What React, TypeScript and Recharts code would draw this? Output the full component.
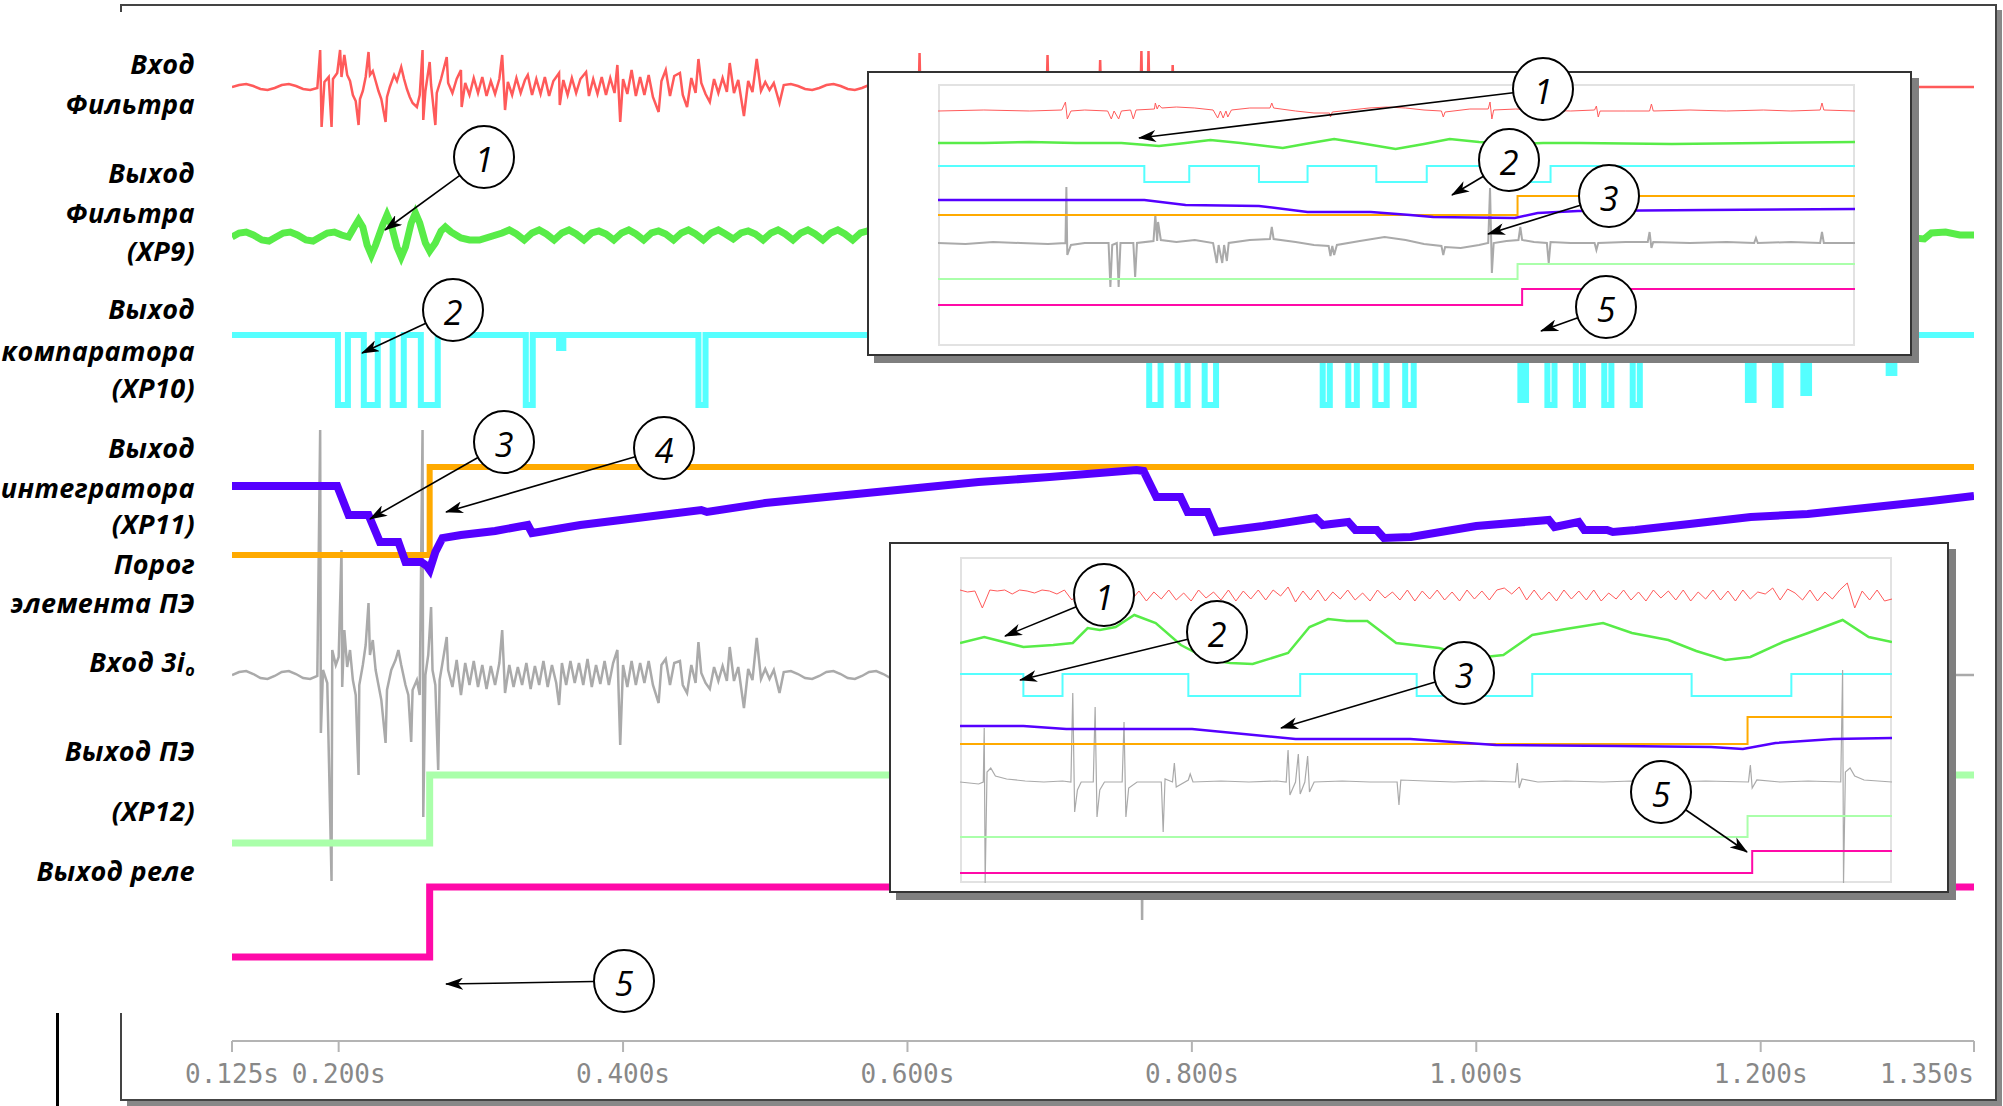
import React from 'react';
import { LineChart, Line, XAxis, YAxis } from 'recharts';

type Pt = [number, number];

// main record: time in seconds, amplitude in px above each channel's baseline
const timeTicks = [0.125, 0.2, 0.4, 0.6, 0.8, 1.0, 1.2, 1.35];

const filterIn: Pt[] = [
  [0.125, 0], [0.13, 2], [0.135, 3], [0.14, 1], [0.145, -2], [0.15, -3], [0.155, -1], [0.16, 2], [0.165, 3], [0.17, 1], [0.175, -2], [0.18, -3], [0.185, -1],
  [0.187, 37], [0.188, -40], [0.19, 5], [0.193, 10], [0.195, -40], [0.196, 8], [0.199, 14], [0.201, 37], [0.202, 10], [0.204, 32], [0.206, 12],
  [0.208, 6], [0.21, -8], [0.212, -14], [0.214, -38], [0.215, -12], [0.217, -4], [0.219, 10], [0.221, 35], [0.222, 12], [0.224, 16], [0.226, 6],
  [0.228, -4], [0.23, -12], [0.233, -35], [0.234, -10], [0.236, 0], [0.239, 12], [0.241, 6], [0.244, 20], [0.246, 8], [0.248, -2], [0.25, -10],
  [0.252, -16], [0.255, -20], [0.257, -8], [0.259, 37], [0.2595, -33], [0.261, -4], [0.264, 25], [0.265, 2], [0.268, -38], [0.269, -6], [0.272, 8],
  [0.276, 30], [0.277, 4], [0.28, -6], [0.283, 8], [0.286, 17], [0.2865, -20], [0.289, 4], [0.292, -8], [0.295, 9], [0.298, -6], [0.301, 10],
  [0.304, -9], [0.307, 6], [0.31, -7], [0.313, 8], [0.315, 32], [0.317, -23], [0.319, 5], [0.322, -8], [0.325, 9], [0.328, -6], [0.331, 7],
  [0.333, 12], [0.336, -8], [0.339, 8], [0.342, -7], [0.345, 10], [0.348, -9], [0.351, 6], [0.355, 14], [0.3555, -18], [0.358, 7], [0.361, -8],
  [0.364, 9], [0.367, -6], [0.37, 8], [0.374, 15], [0.376, -9], [0.379, 8], [0.382, -7], [0.385, 10], [0.388, -8], [0.391, 9], [0.394, -6],
  [0.396, 22], [0.398, -35], [0.4, 8], [0.403, -7], [0.406, 17], [0.409, -9], [0.412, 10], [0.415, -8], [0.418, 12], [0.421, -10], [0.425, -25],
  [0.427, 6], [0.43, 17], [0.433, -9], [0.436, 11], [0.44, 14], [0.442, -8], [0.445, -20], [0.448, 9], [0.451, -6], [0.453, 28], [0.455, 4],
  [0.458, -7], [0.461, -15], [0.464, 8], [0.467, -6], [0.47, 9], [0.473, -5], [0.475, 24], [0.478, -6], [0.481, 7], [0.485, -29], [0.488, 6],
  [0.491, -5], [0.494, 28], [0.497, -4], [0.5, 5], [0.503, -3], [0.506, 4], [0.51, -16], [0.513, 2],
  [0.518, 3], [0.523, 1], [0.528, -2], [0.533, -3], [0.538, -1], [0.543, 2], [0.548, 3], [0.553, 1], [0.558, -2], [0.563, -3], [0.568, -1],
  [0.573, 2], [0.578, 3], [0.583, 1], [0.588, -2], [0.593, -3], [0.6, 0],
  [0.608, 0], [0.6085, 34], [0.609, 0], [0.65, 1], [0.698, 0], [0.6985, 32], [0.699, 0], [0.735, 0], [0.7355, 27], [0.736, 0],
  [0.764, 0], [0.7645, 36], [0.765, 0], [0.769, 0], [0.7695, 36], [0.77, 0], [0.786, 0], [0.7865, 22], [0.787, 0], [0.9, 0], [1.1, 0], [1.35, 0],
];

const filterOut: Pt[] = [
  [0.125, 0], [0.13, 4], [0.135, 5], [0.14, 2], [0.146, -3], [0.151, -4], [0.156, 0], [0.161, 4], [0.166, 5], [0.171, 2], [0.177, -3],
  [0.182, -4], [0.187, 0], [0.192, 4], [0.197, 5], [0.202, 2], [0.207, 0],
  [0.211, 10], [0.214, 17], [0.217, 10], [0.22, -8], [0.223, -18], [0.226, -8], [0.231, 12], [0.234, 22], [0.237, 12], [0.241, -10],
  [0.244, -20], [0.247, -10], [0.251, 14], [0.254, 24], [0.257, 14], [0.261, -6], [0.264, -14], [0.268, -6], [0.272, 6], [0.275, 10],
  [0.279, 5], [0.286, -1], [0.292, -3], [0.299, -3],
  [0.315, 4], [0.32, 7], [0.325, 3], [0.3305, -3], [0.336, 4], [0.341, 7], [0.346, 3], [0.3515, -3], [0.357, 4], [0.362, 7], [0.367, 3],
  [0.3725, -3], [0.378, 4], [0.383, 6], [0.388, 3], [0.3935, -3], [0.399, 4], [0.404, 7], [0.409, 3], [0.4145, -3], [0.42, 4], [0.425, 6],
  [0.43, 3], [0.4355, -3], [0.441, 4], [0.446, 7], [0.451, 3], [0.4565, -3], [0.462, 4], [0.467, 7], [0.472, 3], [0.4775, -2], [0.483, 4],
  [0.488, 6], [0.493, 3], [0.4985, -3], [0.504, 4], [0.509, 7], [0.514, 3], [0.5195, -3], [0.525, 4], [0.53, 7], [0.535, 3], [0.5405, -3],
  [0.546, 4], [0.551, 7], [0.556, 3], [0.5615, -3], [0.567, 4], [0.572, 6], [0.577, 3], [0.5825, -2],
  [0.7, 0], [0.9, 0], [1.1, 0], [1.3, 0], [1.315, -2], [1.32, 4], [1.33, 5], [1.34, 2], [1.35, 2],
];

const comparator: Pt[] = [
  [0.125, 0], [0.1995, -70], [0.2065, 0], [0.2177, -70], [0.2275, 0], [0.238, -70], [0.2458, 0], [0.2578, -70], [0.2697, 0],
  [0.3316, -70], [0.3365, 0], [0.355, -13], [0.358, 0], [0.453, -70], [0.458, 0], [0.77, -70], [0.778, 0], [0.79, -70], [0.797, 0],
  [0.809, -70], [0.817, 0], [0.892, -70], [0.897, 0], [0.91, -70], [0.916, 0], [0.929, -70], [0.937, 0], [0.95, -70], [0.956, 0],
  [1.031, -65], [1.035, 0], [1.05, -70], [1.055, 0], [1.07, -70], [1.075, 0], [1.09, -70], [1.095, 0], [1.11, -70], [1.115, 0],
  [1.191, -65], [1.195, 0], [1.21, -70], [1.214, 0], [1.23, -58], [1.234, 0], [1.29, -38], [1.294, 0], [1.35, 0],
];

const integrator: Pt[] = [
  [0.125, 0], [0.199, 0], [0.207, -29], [0.221, -29], [0.229, -56], [0.242, -56], [0.247, -76], [0.258, -76], [0.262, -80], [0.264, -84],
  [0.268, -66], [0.273, -52], [0.286, -49], [0.31, -45], [0.333, -39], [0.336, -47], [0.345, -45], [0.37, -39], [0.41, -32], [0.455, -24],
  [0.459, -26], [0.5, -17], [0.55, -10], [0.6, -3], [0.65, 4], [0.7, 9], [0.761, 16], [0.766, 15], [0.775, -11], [0.792, -11], [0.797, -26],
  [0.811, -26], [0.817, -46], [0.85, -40], [0.887, -32], [0.892, -39], [0.91, -36], [0.915, -44], [0.93, -44], [0.935, -52], [0.954, -51],
  [1.0, -40], [1.051, -34], [1.055, -41], [1.072, -36], [1.076, -44], [1.092, -44], [1.096, -46], [1.112, -44], [1.15, -38], [1.193, -31],
  [1.233, -28], [1.28, -21], [1.32, -15], [1.35, -10],
];

const threshold: Pt[] = [[0.125, 0], [0.264, 88], [1.35, 88]];

const input3i0: Pt[] = [
  [0.125, 0], [0.13, 3], [0.135, 4], [0.14, 1], [0.145, -3], [0.15, -4], [0.155, -1], [0.16, 3], [0.165, 4], [0.17, 1], [0.175, -3], [0.18, -4], [0.185, -1],
  [0.187, 245], [0.1875, -58], [0.189, 5], [0.192, -8], [0.195, -206], [0.1955, 25], [0.198, 10], [0.2, 18], [0.202, 125], [0.2025, -12],
  [0.204, 45], [0.206, 8], [0.208, 25], [0.21, -5], [0.212, -20], [0.214, -100], [0.2145, -10], [0.217, 10], [0.219, 30], [0.221, 72],
  [0.222, 20], [0.224, 35], [0.226, 5], [0.228, -10], [0.23, -25], [0.233, -68], [0.234, -15], [0.237, 5], [0.24, 15], [0.242, 25],
  [0.244, 10], [0.247, -10], [0.249, -20], [0.251, -67], [0.252, -15], [0.255, -5], [0.257, -20], [0.259, 245], [0.2595, -142], [0.261, 0],
  [0.263, 20], [0.265, 68], [0.266, 5], [0.268, -10], [0.27, -95], [0.271, -5], [0.273, 12], [0.276, 38], [0.277, 5], [0.28, -12],
  [0.283, 15], [0.286, -20], [0.289, 12], [0.292, -10], [0.295, 14], [0.298, -12], [0.301, 10], [0.304, -14], [0.307, 9], [0.31, -10],
  [0.313, 12], [0.315, 45], [0.317, -18], [0.32, 10], [0.323, -12], [0.326, 8], [0.329, -10], [0.332, 12], [0.335, -14], [0.338, 9],
  [0.341, -10], [0.344, 14], [0.347, -12], [0.35, 10], [0.353, -8], [0.355, -30], [0.357, 12], [0.36, -10], [0.363, 14], [0.366, -8],
  [0.369, 12], [0.372, -10], [0.375, 16], [0.378, -12], [0.381, 10], [0.384, -9], [0.387, 14], [0.39, -10], [0.393, 12], [0.396, 25],
  [0.398, -70], [0.4, 10], [0.403, -12], [0.406, 14], [0.409, -10], [0.412, 12], [0.415, -8], [0.418, 14], [0.421, -10], [0.425, -28],
  [0.427, 10], [0.43, 16], [0.433, -10], [0.436, 12], [0.44, 14], [0.442, -10], [0.445, -18], [0.448, 10], [0.451, -8], [0.453, 33],
  [0.455, 2], [0.458, -8], [0.461, -14], [0.464, 8], [0.467, -6], [0.47, 9], [0.473, -6], [0.475, 28], [0.478, -6], [0.481, 8],
  [0.485, -33], [0.488, 6], [0.491, -5], [0.494, 37], [0.497, -4], [0.5, 6], [0.503, -4], [0.506, 5], [0.51, -18], [0.513, 3],
  [0.518, 4], [0.523, 1], [0.528, -3], [0.533, -4], [0.538, -1], [0.543, 3], [0.548, 4], [0.553, 1], [0.558, -3], [0.563, -4], [0.568, -1],
  [0.573, 3], [0.578, 4], [0.583, 1], [0.588, -3], [0.593, -2], [0.7, 0], [0.764, 0], [0.765, -245],
  [0.766, 0], [0.9, 0], [1.2, 0], [1.33, 0], [1.35, 0],
];

const peOut: Pt[] = [[0.125, 0], [0.264, 68], [1.35, 68]];
const relayOut: Pt[] = [[0.125, 0], [0.264, 70], [1.35, 70]];

// inset 1: zoomed window, relative time 0..1
const z1FilterIn: Pt[] = [
  [0, 0], [0.05, 1], [0.1, 0], [0.135, 1], [0.139, 9], [0.141, -8], [0.145, 0], [0.16, 1], [0.185, 0], [0.189, -8], [0.192, 0],
  [0.197, -8], [0.2, 0], [0.21, 1], [0.213, -8], [0.216, 1], [0.236, 2], [0.237, 8], [0.239, 2], [0.241, 6], [0.244, 3], [0.26, 4],
  [0.28, 3], [0.3, 1], [0.305, -7], [0.308, 0], [0.311, -7], [0.314, 0], [0.316, -6], [0.32, 1], [0.34, 3], [0.362, 3], [0.364, 8],
  [0.366, 3], [0.39, 0], [0.41, -2], [0.427, -2], [0.428, -6], [0.43, -1], [0.45, 1], [0.47, 3], [0.49, 4], [0.51, 3], [0.53, 1],
  [0.549, 0], [0.551, -6], [0.553, -1], [0.58, 2], [0.6, 2], [0.602, 9], [0.604, -8], [0.606, 1], [0.63, 2], [0.66, 1], [0.69, 0],
  [0.716, 1], [0.718, 5], [0.72, -6], [0.722, 0], [0.75, 0], [0.776, 0], [0.778, 7], [0.78, 0], [0.82, 1], [0.86, 0], [0.9, 1],
  [0.93, 0], [0.962, 1], [0.964, 8], [0.966, 1], [1, 0],
];
const z1FilterOut: Pt[] = [
  [0, 0], [0.05, 0], [0.1, 1], [0.15, 0], [0.2, 0], [0.241, -3], [0.27, 0], [0.297, 3], [0.33, 0], [0.376, -5], [0.4, -1], [0.432, 4],
  [0.46, 0], [0.499, -6], [0.53, -1], [0.558, 4], [0.59, 1], [0.63, -1], [0.66, 0], [0.7, 0], [0.8, -1], [0.9, 0], [1, 1],
];
const z1Comparator: Pt[] = [
  [0, 0], [0.225, -16], [0.274, 0], [0.35, -16], [0.403, 0], [0.478, -16], [0.533, 0], [0.606, -16], [0.668, 0], [1, 0],
];
const z1Integrator: Pt[] = [
  [0, 0], [0.225, 0], [0.27, -5], [0.35, -6], [0.403, -12], [0.472, -12], [0.515, -15], [0.54, -17], [0.629, -18], [0.654, -13],
  [0.698, -11], [0.838, -10], [1, -9],
];
const z1Threshold: Pt[] = [[0, 0], [0.632, 19], [1, 19]];
const z1Input3i0: Pt[] = [
  [0, 0], [0.03, -1], [0.06, 1], [0.09, 0], [0.12, -1], [0.139, 0], [0.14, 56], [0.141, -12], [0.145, -2], [0.16, 0], [0.186, 0],
  [0.188, -44], [0.19, -2], [0.195, 0], [0.197, -44], [0.199, 0], [0.213, 0], [0.215, -34], [0.217, 0], [0.235, 2], [0.237, 28],
  [0.239, 2], [0.24, 21], [0.243, 3], [0.26, 1], [0.28, 3], [0.3, 0], [0.304, -20], [0.306, -2], [0.31, -20], [0.312, -2], [0.315, -18],
  [0.317, 0], [0.34, 3], [0.362, 4], [0.364, 16], [0.366, 4], [0.39, 1], [0.41, -2], [0.426, -3], [0.428, -13], [0.43, -3], [0.432, -12],
  [0.435, -2], [0.46, 2], [0.487, 6], [0.51, 3], [0.53, -1], [0.549, -3], [0.551, -12], [0.553, -4], [0.57, -5], [0.59, -2], [0.6, 0],
  [0.602, 55], [0.604, -30], [0.606, 0], [0.62, 2], [0.633, 3], [0.635, 16], [0.637, 3], [0.65, 1], [0.664, 0], [0.666, -20], [0.668, 1],
  [0.69, 0], [0.716, 0], [0.718, -7], [0.72, 0], [0.75, 1], [0.774, 1], [0.776, 11], [0.778, -5], [0.78, 1], [0.82, 0], [0.86, 1],
  [0.89, 0], [0.892, 5], [0.894, 0], [0.93, 1], [0.962, 0], [0.964, 11], [0.966, 0], [1, 0],
];
const z1PeOut: Pt[] = [[0, 0], [0.632, 15], [1, 15]];
const z1RelayOut: Pt[] = [[0, 0], [0.637, 16], [1, 16]];

// inset 2: second zoomed window, relative time 0..1
const z2FilterInSamples = [
  0, -2, -1, -18, 0,
  -1, 0, -4, 0, -1, -3, 0, -1, -4, 0,
  -10, -2, -9, 0, -11, -3, -8, 0, -10, -1, -11, -2, -9, 0, -10, -3, -11, 0, -8, -2, -10, 0, -11, -1, -9, 0, -10,
  0, -6, 3, -12,
  -1, -10, 0, -11, -2, -9, 0, -10, -3, -11, 0, -8, -2, -10, 0, -11, -1, -9, 0, -10, -2, -11, 0, -9, -1, -10, 0,
  2, -4, 3, -10, 0,
  -10, -2, -11, 0, -9, -1, -10, 0, -11, -3, -9, 0, -10, -2, -11, 0, -8, -1, -10, 0, -11, -2, -9, 0, -10, -1, -11, 0, -9, -2, -4, 2, -10, 1, -3,
  -10, 0, -11, -2, -9, 0, 7, -18, -1, -10, 0, -11, -9,
];
const z2FilterOut: Pt[] = [
  [0, 0], [0.026, 6], [0.068, -4], [0.1, -2], [0.121, 0], [0.137, 15], [0.15, 13], [0.167, 16], [0.187, 28], [0.21, 20], [0.237, -2],
  [0.268, -17], [0.29, -20], [0.314, -21], [0.352, -10], [0.375, 16], [0.395, 24], [0.415, 22], [0.437, 22], [0.468, 0], [0.514, -5],
  [0.553, -15], [0.583, -12], [0.614, 8], [0.65, 14], [0.69, 20], [0.721, 10], [0.76, 3], [0.79, -8], [0.821, -17], [0.848, -14],
  [0.883, 1], [0.91, 10], [0.947, 23], [0.975, 6], [1, 1],
];
const z2Comparator: Pt[] = [
  [0, 0], [0.068, -22], [0.11, 0], [0.245, -22], [0.365, 0], [0.49, -22], [0.614, 0], [0.785, -22], [0.892, 0], [1, 0],
];
const z2Integrator: Pt[] = [
  [0, 0], [0.068, 0], [0.114, -3], [0.249, -3], [0.36, -13], [0.483, -13], [0.575, -19], [0.706, -20], [0.806, -21], [0.84, -23],
  [0.875, -17], [0.937, -13], [1, -12],
];
const z2Threshold: Pt[] = [[0, 0], [0.845, 27], [1, 27]];
const z2Input3i0: Pt[] = [
  [0, 0], [0.02, -2], [0.025, 0], [0.026, 54], [0.027, -101], [0.029, 10], [0.033, 14], [0.038, 6], [0.05, 3], [0.07, 1], [0.09, 0],
  [0.11, 1], [0.119, 0], [0.121, 89], [0.123, -30], [0.126, -8], [0.13, 0], [0.143, 0], [0.145, 75], [0.147, -35], [0.15, -8], [0.155, 0],
  [0.174, 0], [0.176, 60], [0.178, -35], [0.181, -6], [0.19, 0], [0.216, 0], [0.218, -50], [0.22, 3], [0.228, 0], [0.23, 19], [0.232, -5],
  [0.245, 2], [0.247, 8], [0.25, 0], [0.28, 1], [0.31, 0], [0.34, 1], [0.35, 0], [0.352, 32], [0.354, -13], [0.36, 0], [0.363, 28],
  [0.365, -12], [0.37, 0], [0.373, 26], [0.375, -10], [0.38, 0], [0.41, 1], [0.44, 0], [0.469, 0], [0.471, -23], [0.473, 2], [0.5, 1],
  [0.53, 0], [0.56, 1], [0.596, 0], [0.598, 19], [0.6, -6], [0.603, 3], [0.62, 0], [0.65, 1], [0.69, 0], [0.72, 1], [0.76, 0], [0.8, 1],
  [0.846, 0], [0.848, 17], [0.85, -6], [0.855, 2], [0.88, 0], [0.91, 1], [0.945, 0], [0.947, 112], [0.948, -101], [0.95, 10],
  [0.955, 14], [0.96, 6], [0.97, 2], [1, 0],
];
const z2PeOut: Pt[] = [[0, 0], [0.845, 21], [1, 21]];
const z2RelayOut: Pt[] = [[0, 0], [0.85, 22], [1, 22]];

const RED = '#ff5a5a';
const GREEN = '#58ec48';
const CYAN = '#55ffff';
const PURPLE = '#5500ff';
const ORANGE = '#ffaa00';
const GRAY = '#aaaaaa';
const LGREEN = '#aaffaa';
const MAGENTA = '#ff0aa8';

type Series = { pts: Pt[]; base: number; color: string; w: number; step?: boolean };

const toRows = (pts: Pt[], base: number) => pts.map(([t, a]) => ({ t, y: base - a }));

function renderLines(series: Series[]) {
  return series.map((s, i) => (
    <Line
      key={i}
      data={toRows(s.pts, s.base)}
      dataKey="y"
      type={s.step ? 'stepAfter' : 'linear'}
      stroke={s.color}
      strokeWidth={s.w}
      dot={false}
      activeDot={false}
      isAnimationActive={false}
    />
  ));
}

// last label sits flush with the right edge of the plot, as in the scope print
function TimeTick(props: any) {
  const { x, y, payload } = props;
  const last = payload.value === timeTicks[timeTicks.length - 1];
  return (
    <text
      x={x}
      y={y}
      dy="0.71em"
      textAnchor={last ? 'end' : 'middle'}
      fill="#888"
      fontSize={26}
      fontFamily='"DejaVu Sans Mono", monospace'
    >
      {`${payload.value.toFixed(3)}s`}
    </text>
  );
}

function MainChart() {
  const series: Series[] = [
    { pts: filterIn, base: 55, color: RED, w: 2.5 },
    { pts: filterOut, base: 205, color: GREEN, w: 7 },
    { pts: comparator, base: 303, color: CYAN, w: 6, step: true },
    { pts: input3i0, base: 643, color: GRAY, w: 2.5 },
    { pts: threshold, base: 523, color: ORANGE, w: 6, step: true },
    { pts: integrator, base: 454, color: PURPLE, w: 8 },
    { pts: peOut, base: 811, color: LGREEN, w: 7, step: true },
    { pts: relayOut, base: 925, color: MAGENTA, w: 7, step: true },
  ];
  return (
    <div style={{ position: 'absolute', left: 0, top: 0 }}>
      <LineChart width={2003} height={1106} margin={{ top: 32, right: 29, bottom: 5, left: 232 }}>
        <XAxis
          dataKey="t"
          type="number"
          domain={[0.125, 1.35]}
          ticks={timeTicks}
          interval={0}
          allowDataOverflow
          height={60}
          stroke="#b4b4b4"
          strokeWidth={2}
          tickSize={11}
          tickMargin={13}
          tick={<TimeTick />}
        />
        <XAxis xAxisId="top" orientation="top" dataKey="t" type="number" domain={[0.125, 1.35]} height={0} tick={false} tickLine={false} stroke="#cccccc" strokeWidth={2} />
        <YAxis type="number" domain={[0, 1009]} reversed width={0} tick={false} tickLine={false} stroke="#bbbbbb" strokeWidth={2} allowDataOverflow />
        <YAxis yAxisId="right" orientation="right" type="number" domain={[0, 1]} width={0} tick={false} tickLine={false} stroke="#bbbbbb" strokeWidth={2} />
        {renderLines(series)}
      </LineChart>
    </div>
  );
}

function Inset({ box, inner, series }: { box: number[]; inner: number[]; series: Series[] }) {
  return (
    <>
      <div
        style={{
          position: 'absolute', left: box[0], top: box[1], width: box[2], height: box[3], background: '#fff',
          border: '2px solid #333', boxShadow: '7px 7px 0 #7f7f7f', boxSizing: 'border-box',
        }}
      />
      <div style={{ position: 'absolute', left: inner[0], top: inner[1], width: inner[2], height: inner[3], border: '2px solid #e2e2e2', boxSizing: 'border-box' }} />
      <div style={{ position: 'absolute', left: inner[0], top: inner[1] }}>
        <LineChart width={inner[2]} height={inner[3]} margin={{ top: 0, right: 0, bottom: 0, left: 0 }}>
          <XAxis dataKey="t" type="number" domain={[0, 1]} hide />
          <YAxis type="number" domain={[0, inner[3]]} reversed hide />
          {renderLines(series)}
        </LineChart>
      </div>
    </>
  );
}

const labelStyle: React.CSSProperties = {
  position: 'absolute', right: 1808, transform: 'translateY(-50%)', whiteSpace: 'nowrap', lineHeight: 1,
  fontFamily: '"Open Sans", sans-serif', fontWeight: 700, fontStyle: 'italic', fontSize: 27, letterSpacing: 0.4, color: '#000',
};

function Labels() {
  const rows: [React.ReactNode, number][] = [
    ['Вход', 63], ['Фильтра', 103], ['Выход', 172], ['Фильтра', 212], ['(XP9)', 250], ['Выход', 308], ['компаратора', 350],
    ['(XP10)', 387], ['Выход', 447], ['интегратора', 487], ['(XP11)', 523], ['Порог', 563], ['элемента ПЭ', 602],
    [<>Вход 3i<span style={{ fontSize: '0.6em', verticalAlign: '-0.2em' }}>o</span></>, 663],
    ['Выход ПЭ', 750], ['(XP12)', 810], ['Выход реле', 870],
  ];
  return (
    <>
      {rows.map(([txt, y], i) => (
        <div key={i} style={{ ...labelStyle, top: y }}>{txt}</div>
      ))}
    </>
  );
}

function Callouts() {
  const items: { n: string; c: [number, number]; to: [number, number] }[] = [
    { n: '1', c: [484, 157], to: [385, 230] },
    { n: '2', c: [453, 310], to: [362, 353] },
    { n: '3', c: [504, 442], to: [370, 519] },
    { n: '4', c: [664, 448], to: [446, 512] },
    { n: '5', c: [624, 981], to: [446, 984] },
    { n: '1', c: [1543, 89], to: [1139, 138] },
    { n: '2', c: [1509, 160], to: [1452, 195] },
    { n: '3', c: [1609, 196], to: [1488, 234] },
    { n: '5', c: [1606, 307], to: [1541, 331] },
    { n: '1', c: [1104, 595], to: [1005, 636] },
    { n: '2', c: [1217, 632], to: [1020, 680] },
    { n: '3', c: [1464, 673], to: [1281, 728] },
    { n: '5', c: [1661, 792], to: [1747, 852] },
  ];
  return (
    <svg width={2003} height={1106} style={{ position: 'absolute', left: 0, top: 0, pointerEvents: 'none' }}>
      <defs>
        <marker id="ah" markerWidth="18" markerHeight="12" refX="17" refY="6" orient="auto" markerUnits="userSpaceOnUse">
          <path d="M0,0 L18,6 L0,12 L5,6 Z" fill="#000" />
        </marker>
      </defs>
      {items.map((it, i) => {
        const dx = it.to[0] - it.c[0];
        const dy = it.to[1] - it.c[1];
        const d = Math.hypot(dx, dy);
        const sx = it.c[0] + (dx / d) * 30;
        const sy = it.c[1] + (dy / d) * 31;
        return (
          <g key={i}>
            <line x1={sx} y1={sy} x2={it.to[0]} y2={it.to[1]} stroke="#000" strokeWidth={1.6} markerEnd="url(#ah)" />
            <ellipse cx={it.c[0]} cy={it.c[1]} rx={30} ry={31} fill="#fff" stroke="#000" strokeWidth={2} />
            <text
              x={it.c[0]}
              y={it.c[1] + 2}
              textAnchor="middle"
              dominantBaseline="central"
              fontFamily='"Open Sans", sans-serif'
              fontStyle="italic"
              fontSize={34}
              fill="#000"
            >
              {it.n}
            </text>
          </g>
        );
      })}
    </svg>
  );
}

export default function App() {
  const z2FilterIn: Pt[] = z2FilterInSamples.map((v, i) => [i / (z2FilterInSamples.length - 1), v]);
  const inset1: Series[] = [
    { pts: z1FilterIn, base: 27, color: RED, w: 1 },
    { pts: z1FilterOut, base: 59, color: GREEN, w: 2.5 },
    { pts: z1Comparator, base: 82, color: CYAN, w: 2, step: true },
    { pts: z1Input3i0, base: 159, color: GRAY, w: 2 },
    { pts: z1Threshold, base: 131, color: ORANGE, w: 2, step: true },
    { pts: z1Integrator, base: 116, color: PURPLE, w: 2.5 },
    { pts: z1PeOut, base: 195, color: LGREEN, w: 2, step: true },
    { pts: z1RelayOut, base: 221, color: MAGENTA, w: 2, step: true },
  ];
  const inset2: Series[] = [
    { pts: z2FilterIn, base: 33, color: RED, w: 1 },
    { pts: z2FilterOut, base: 86, color: GREEN, w: 2.5 },
    { pts: z2Comparator, base: 117, color: CYAN, w: 2, step: true },
    { pts: z2Input3i0, base: 225, color: GRAY, w: 1.2 },
    { pts: z2Threshold, base: 187, color: ORANGE, w: 2, step: true },
    { pts: z2Integrator, base: 169, color: PURPLE, w: 2.5 },
    { pts: z2PeOut, base: 280, color: LGREEN, w: 2, step: true },
    { pts: z2RelayOut, base: 316, color: MAGENTA, w: 2, step: true },
  ];
  return (
    <div style={{ position: 'absolute', left: 0, top: 0, width: 2003, height: 1106, background: '#fff', overflow: 'hidden' }}>
      {/* outer frame with shadow */}
      <div style={{ position: 'absolute', left: 127, top: 1101, width: 1875, height: 5, background: '#888' }} />
      <div style={{ position: 'absolute', left: 1997, top: 10, width: 5, height: 1096, background: '#888' }} />
      <div style={{ position: 'absolute', left: 120, top: 4, width: 1877, height: 2, background: '#444' }} />
      <div style={{ position: 'absolute', left: 1995, top: 4, width: 2, height: 1097, background: '#444' }} />
      <div style={{ position: 'absolute', left: 120, top: 1099, width: 1877, height: 2, background: '#444' }} />
      <div style={{ position: 'absolute', left: 120, top: 1013, width: 2, height: 88, background: '#444' }} />
      <div style={{ position: 'absolute', left: 120, top: 4, width: 2, height: 8, background: '#444' }} />
      <div style={{ position: 'absolute', left: 56, top: 1013, width: 3, height: 93, background: '#000' }} />
      <MainChart />
      <Labels />
      <Inset box={[867, 71, 1045, 285]} inner={[938, 84, 917, 262]} series={inset1} />
      <Inset box={[889, 542, 1060, 351]} inner={[960, 557, 932, 326]} series={inset2} />
      <Callouts />
    </div>
  );
}
